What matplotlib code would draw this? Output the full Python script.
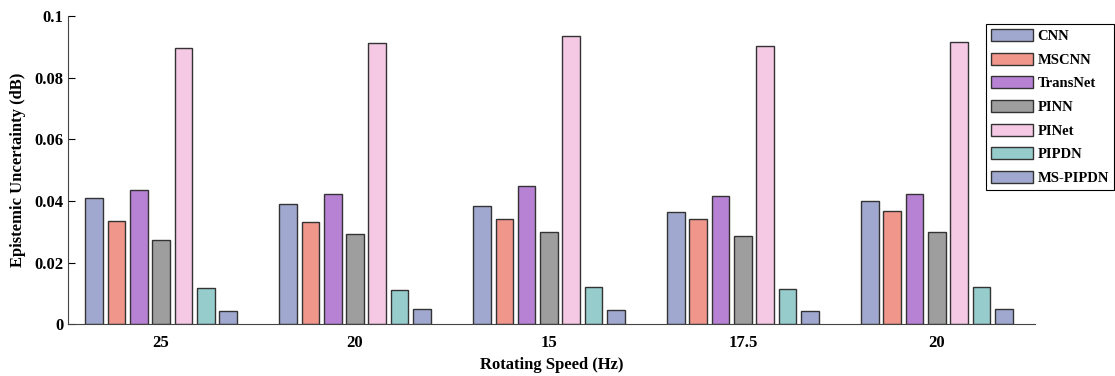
import numpy as np
import matplotlib
matplotlib.use("Agg")
import matplotlib.pyplot as plt

plt.rcParams['font.family'] = ['Liberation Serif', 'DejaVu Serif']
plt.rcParams['font.weight'] = 'bold'

# Rotating speed groups and model names
speeds = ["25", "20", "15", "17.5", "20"]
models = ["CNN", "MSCNN", "TransNet", "PINN", "PINet", "PIPDN", "MS-PIPDN"]

# Epistemic uncertainty per model (one value per speed group)
cnn = [0.0410, 0.0390, 0.0382, 0.0364, 0.0400]
mscnn = [0.0334, 0.0332, 0.0342, 0.0342, 0.0366]
transnet = [0.0434, 0.0422, 0.0449, 0.0417, 0.0422]
pinn = [0.0272, 0.0292, 0.0300, 0.0286, 0.0300]
pinet = [0.0896, 0.0912, 0.0934, 0.0903, 0.0916]
pipdn = [0.0118, 0.0111, 0.0119, 0.0115, 0.0121]
ms_pipdn = [0.0041, 0.0049, 0.0046, 0.0044, 0.0049]

series = [cnn, mscnn, transnet, pinn, pinet, pipdn, ms_pipdn]
colors = ["#a0a8d0", "#f0968a", "#b882d4", "#9e9e9e", "#f5c8e4", "#96cdcc", "#a0a8d0"]

fig = plt.figure(figsize=(11.15, 3.76), dpi=100)
ax = fig.add_axes([0.061, 0.138, 0.867, 0.819])

x = np.arange(1, len(speeds) + 1)
step = 0.115
width = 0.091
for i, (vals, c, name) in enumerate(zip(series, colors, models)):
    ax.bar(x + (i - 3) * step, vals, width, color=c, edgecolor="#333333",
           linewidth=1.0, label=name)

ax.set_xlim(0.52, 5.505)
ax.set_ylim(0, 0.1)
ax.set_yticks([0, 0.02, 0.04, 0.06, 0.08, 0.1])
ax.set_yticklabels(["0", "0.02", "0.04", "0.06", "0.08", "0.1"])
ax.set_xticks(x)
ax.set_xticklabels(speeds)
ax.tick_params(axis='y', direction='in', length=5, labelsize=12, width=0.8)
ax.tick_params(axis='x', length=0, labelsize=12, pad=8)
for lab in ax.get_xticklabels() + ax.get_yticklabels():
    lab.set_fontweight('bold')

ax.spines['top'].set_visible(False)
ax.spines['right'].set_visible(False)
ax.spines['left'].set_color('#444444')
ax.spines['bottom'].set_color('#444444')

ax.set_xlabel("Rotating Speed (Hz)", fontsize=12, fontweight='bold', labelpad=4)
ax.set_ylabel("Epistemic Uncertainty (dB)", fontsize=12, fontweight='bold', labelpad=6)

leg = fig.legend(loc='upper left', bbox_to_anchor=(0.884, 0.937), fancybox=False,
                 edgecolor='black', framealpha=1, fontsize=10.5, handlelength=2.9,
                 handleheight=0.9, labelspacing=0.66, handletextpad=0.3,
                 borderpad=0.35, borderaxespad=0)
leg.get_frame().set_linewidth(0.8)
for t in leg.get_texts():
    t.set_fontweight('bold')

fig.savefig("out.png", dpi=100)
